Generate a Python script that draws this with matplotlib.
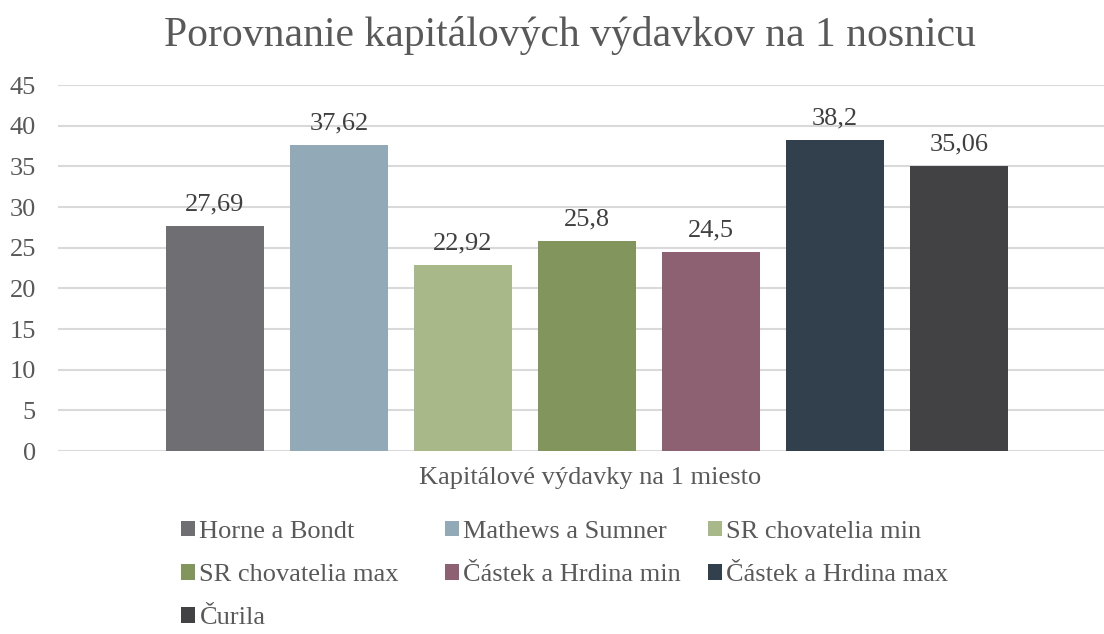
import numpy as np
import matplotlib
matplotlib.use('Agg')
import matplotlib.pyplot as plt

plt.rcParams['font.family'] = ['Liberation Serif', 'DejaVu Serif']

# chart data
series = ['Horne a Bondt', 'Mathews a Sumner', 'SR chovatelia min',
          'SR chovatelia max', 'Částek a Hrdina min', 'Částek a Hrdina max', 'Čurila']
values = [27.69, 37.62, 22.92, 25.8, 24.5, 38.2, 35.06]
colors = ['#6F6E73', '#92A9B8', '#A9B889', '#81955C', '#8D6171', '#32404E', '#424244']
yticks = [0, 5, 10, 15, 20, 25, 30, 35, 40, 45]
category = 'Kapitálové výdavky na 1 miesto'
title = 'Porovnanie kapitálových výdavkov na 1 nosnicu'

W, H = 1104, 634
fig = plt.figure(figsize=(W / 100, H / 100), dpi=100)
ax = fig.add_axes([58 / W, 1 - 451 / H, (W - 58) / W, (451 - 85) / H])

x = np.arange(len(values))
bars = ax.bar(x, values, width=0.79, color=colors, zorder=3)
ax.set_xlim(-1.266, 7.169)
ax.set_ylim(0, 45)
ax.set_yticks(yticks)
ax.yaxis.grid(True, color='#D9D9D9', linewidth=1.5, zorder=0)
ax.set_xticks([])
for s in ax.spines.values():
    s.set_visible(False)
ax.tick_params(axis='y', length=0, pad=16, labelsize=19, labelcolor='#595959')

labels = [f'{v:g}'.replace('.', ',') for v in values]
ax.bar_label(bars, labels=labels, padding=7.5, fontsize=19, color='#404040')

fig.text(570 / W, 1 - 46 / H, title, ha='center', va='baseline', fontsize=30, color='#595959')
fig.text(590 / W, 1 - 484 / H, category, ha='center', va='baseline', fontsize=19, color='#595959')

# Excel-like legend: equal column widths, filled row by row
columns = [[0, 3, 6], [1, 4], [2, 5]]
col_x = [181, 445, 708]
for idx, cx in zip(columns, col_x):
    fig.legend([bars[i] for i in idx], [series[i] for i in idx],
               loc='upper left', bbox_to_anchor=(cx / W, 1 - 521 / H),
               frameon=False, fontsize=19, labelcolor='#595959',
               handlelength=0.52, handleheight=0.52, handletextpad=0.18,
               labelspacing=0.8, borderpad=0, borderaxespad=0)

fig.savefig('out.png', dpi=100)
